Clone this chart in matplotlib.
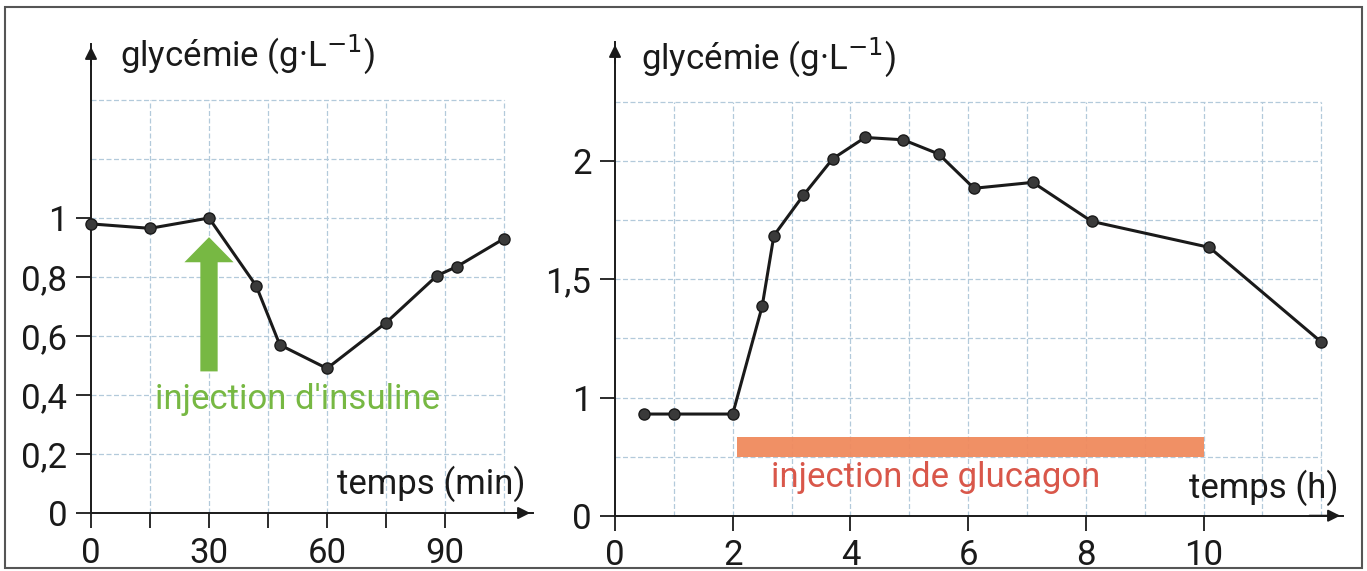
import matplotlib
matplotlib.use("Agg")
import matplotlib.pyplot as plt
import numpy as np
from matplotlib.patches import Rectangle, FancyArrow

plt.rcParams['font.family'] = ['Roboto', 'DejaVu Sans']

# ---- data: left panel (insulin) ----
ins_t = [0, 15, 30, 42, 48, 60, 75, 88, 93, 105]
ins_g = [0.98, 0.965, 1.0, 0.77, 0.57, 0.49, 0.645, 0.805, 0.835, 0.93]
ins_xticks = [0, 15, 30, 45, 60, 75, 90]
ins_xtick_labels = ['0', '', '30', '', '60', '', '90']
ins_yticks = [0, 0.2, 0.4, 0.6, 0.8, 1.0]
ins_ytick_labels = ['0', '0,2', '0,4', '0,6', '0,8', '1']

# ---- data: right panel (glucagon) ----
glu_t = [0.5, 1.0, 2.0, 2.5, 2.7, 3.2, 3.7, 4.25, 4.9, 5.5, 6.1, 7.1, 8.1, 10.1, 12.0]
glu_g = [0.86, 0.86, 0.86, 1.385, 1.685, 1.855, 2.01, 2.10, 2.09, 2.03, 1.885, 1.91, 1.745, 1.635, 1.235]
glu_xticks = [0, 2, 4, 6, 8, 10]
glu_xtick_labels = ['0', '2', '4', '6', '8', '10']
glu_yticks = [0, 1, 1.5, 2]
glu_ytick_labels = ['0', '1', '1,5', '2']
glucagon_start, glucagon_end = 2.08, 10.0

W, H = 1367, 571
fig = plt.figure(figsize=(W / 100, H / 100), dpi=100)
fig.patch.set_facecolor('white')

# outer frame
fig.add_artist(Rectangle((5 / W, 3 / H), (1362 - 5) / W, (566 - 5) / H,
                         transform=fig.transFigure, fill=False,
                         edgecolor='#555555', lw=1.5))

GRID = '#b3cadb'
FS = 25
INK = '#1a1a1a'


def px_axes(l, r, b, t):
    return fig.add_axes([l / W, (H - b) / H, (r - l) / W, (b - t) / H])


def style(ax):
    for s in ['top', 'right']:
        ax.spines[s].set_visible(False)
    for s in ['left', 'bottom']:
        ax.spines[s].set_linewidth(1.4)
        ax.spines[s].set_color(INK)
    ax.tick_params(direction='out', length=11, width=1.3, labelsize=FS,
                   color=INK, labelcolor=INK, pad=6)
    ax.set_facecolor('none')


def arrows(ax):
    ax.annotate('', xy=(1, 0), xycoords='axes fraction', xytext=(0.95, 0),
                arrowprops=dict(arrowstyle='-|>', color=INK, lw=1.4,
                                mutation_scale=18))
    ax.annotate('', xy=(0, 1), xycoords='axes fraction', xytext=(0, 0.95),
                arrowprops=dict(arrowstyle='-|>', color=INK, lw=1.4,
                                mutation_scale=18))


# ---------------- left panel ----------------
axL = px_axes(91, 533, 513, 44)
axL.set_xlim(0, (533 - 91) / (59 / 15))
axL.set_ylim(0, (513 - 44) / 295)
style(axL)
for xv in np.arange(15, 106, 15):
    axL.plot([xv, xv], [0, 1.4], ls=(0, (4, 2)), color=GRID, lw=0.9, zorder=0)
for yv in np.arange(0.2, 1.41, 0.2):
    axL.plot([0, 105], [yv, yv], ls=(0, (4, 2)), color=GRID, lw=0.9, zorder=0)
axL.set_xticks(ins_xticks)
axL.set_xticklabels(ins_xtick_labels)
axL.set_yticks(ins_yticks)
axL.set_yticklabels(ins_ytick_labels)
axL.plot(ins_t, ins_g, '-o', color=INK, lw=2.2, ms=8,
         mfc='#3a3a3a', mec=INK, zorder=5, clip_on=False)
# green arrow
axL.add_patch(FancyArrow(30, 0.48, 0, 0.455, width=4.4, head_width=12.5,
                         head_length=0.085, length_includes_head=True,
                         color='#77b843', lw=0, zorder=4))
axL.text(52.5, 0.385, "injection d'insuline", color='#77b843', fontsize=FS,
         ha='center', va='center')
axL.text(110.5, 0.1, 'temps (min)', fontsize=FS, ha='right', va='center', color=INK)
axL.text(7.3, 1.555, 'glycémie (g·L$^{-1}$)', fontsize=FS, ha='left', va='center',
         color=INK)
arrows(axL)


# ---------------- right panel ----------------
def fwd(v):
    v = np.asarray(v, dtype=float)
    return np.where(v <= 1, v / 2, v - 0.5)


def inv(u):
    u = np.asarray(u, dtype=float)
    return np.where(u <= 0.5, u * 2, u + 0.5)


axR = px_axes(615, 1343, 515.7, 42)
axR.set_yscale('function', functions=(fwd, inv))
axR.set_xlim(0, (1343 - 615) / 58.85)
axR.set_ylim(0, float(inv((515.7 - 42) / 236.4)))
style(axR)
for xv in np.arange(1, 12.1, 1):
    axR.plot([xv, xv], [0, 2.25], ls=(0, (4, 2)), color=GRID, lw=0.9, zorder=0)
for yv in [0.5, 1, 1.25, 1.5, 1.75, 2, 2.25]:
    axR.plot([0, 12], [yv, yv], ls=(0, (4, 2)), color=GRID, lw=0.9, zorder=0)
axR.set_xticks(glu_xticks)
axR.set_xticklabels(glu_xtick_labels)
axR.set_yticks(glu_yticks)
axR.set_yticklabels(glu_ytick_labels)
axR.minorticks_off()
axR.add_patch(Rectangle((glucagon_start, 0.5), glucagon_end - glucagon_start, 0.17,
                        facecolor='#f08a5d', edgecolor='none', zorder=3, alpha=0.95))
axR.plot(glu_t, glu_g, '-o', color=INK, lw=2.2, ms=8,
         mfc='#3a3a3a', mec=INK, zorder=5, clip_on=False)
axR.text(5.45, 0.32, 'injection de glucagon', color='#d9574a', fontsize=FS,
         ha='center', va='center')
axR.text(12.3, 0.24, 'temps (h)', fontsize=FS, ha='right', va='center', color=INK)
axR.text(0.45, 2.44, 'glycémie (g·L$^{-1}$)', fontsize=FS, ha='left', va='center',
         color=INK)
arrows(axR)

fig.savefig('out.png', dpi=100, facecolor='white')
